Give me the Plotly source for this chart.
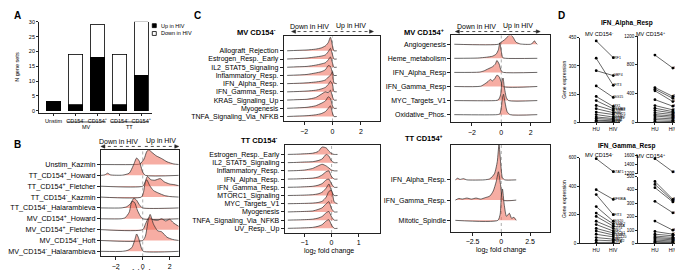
import plotly.graph_objects as go

W, H = 683, 270
def px(x): return x / W
def py(y): return 1 - y / H

FONT = "Liberation Sans, Arial, sans-serif"
FILL = "rgba(238,105,88,0.55)"

# ---------------- data ----------------
# Panel A
A_ticklabels = ["Unstim", "CD154<sup>-</sup>", "CD154<sup>+</sup>", "CD154<sup>-</sup>", "CD154<sup>+</sup>"]
A_up = [3, 2, 18, 2, 12]
A_down = [0, 17, 11, 17, 18]
A_yticks = [0, 5, 10, 15, 20, 25, 30]

# Panel B (ridges: x = log2 FC, h = density height in row units)
B_labels = ["Unstim_Kazmin", "TT_CD154<sup>+</sup>_Howard", "TT_CD154<sup>+</sup>_Fletcher",
            "TT_CD154<sup>-</sup>_Kazmin", "TT_CD154<sup>-</sup>_Halarambieva",
            "MV_CD154<sup>+</sup>_Howard", "MV_CD154<sup>+</sup>_Fletcher",
            "MV_CD154<sup>-</sup>_Hoft", "MV_CD154<sup>-</sup>_Halarambieva"]
B_x = [
    [-3.1, -0.5, -0.2, 0.1, 0.3, 0.45, 0.7, 1.0, 1.4, 1.8, 2.3, 2.67],
    [-3.1, -2.8, -2.6, -2.4, -1.5, -1.0, -0.7, -0.45, -0.25, 0.0, 0.2, 2.67],
    [-3.1, 0.0, 0.15, 0.35, 0.6, 0.9, 1.3, 1.6, 2.0, 2.3, 2.67],
    [-3.1, -0.1, 0.05, 0.2, 0.3, 0.5, 0.8, 1.2, 1.6, 2.0, 2.67],
    [-3.1, -1.6, -1.2, -0.9, -0.65, -0.45, -0.2, 0.0, 2.67],
    [-3.1, -1.6, -1.3, -1.0, -0.8, -0.6, -0.4, -0.2, 0.0, 2.67],
    [-3.1, 0.0, 0.2, 0.45, 0.8, 1.1, 1.4, 1.7, 2.0, 2.3, 2.67],
    [-3.1, 0.0, 0.2, 0.4, 0.55, 0.8, 1.1, 1.4, 1.8, 2.2, 2.67],
    [-3.1, -1.5, -1.1, -0.8, -0.6, -0.45, -0.3, -0.1, 0.05, 2.67],
]
B_h = [
    [0, 0, 0.05, 0.5, 1.2, 1.35, 1.1, 0.8, 0.55, 0.25, 0.05, 0],
    [0, 0.05, 0.2, 0.05, 0.02, 0.2, 0.9, 1.6, 1.3, 0.3, 0, 0],
    [0, 0, 0.3, 0.9, 0.6, 0.55, 0.7, 0.4, 0.2, 0.15, 0.05],
    [0, 0, 0.4, 1.4, 1.6, 1.1, 0.6, 0.35, 0.15, 0.05, 0],
    [0, 0, 0.1, 0.4, 0.9, 0.7, 0.2, 0, 0],
    [0, 0, 0.1, 0.6, 1.6, 1.5, 0.8, 0.3, 0, 0],
    [0, 0, 0.5, 1.1, 0.9, 0.85, 1.0, 0.8, 0.95, 0.6, 0.3],
    [0, 0, 0.4, 1.8, 2.4, 1.5, 0.9, 0.8, 0.3, 0.1, 0],
    [0, 0, 0.1, 0.35, 1.0, 1.6, 1.2, 0.3, 0, 0],
]

# Panel C, MV CD154-
C_MVneg_labels = ["Allograft_Rejection", "Estrogen_Resp._Early", "IL2_STAT5_Signaling",
                  "Inflammatory_Resp.", "IFN_Alpha_Resp.", "IFN_Gamma_Resp.",
                  "KRAS_Signaling_Up", "Myogenesis", "TNFA_Signaling_Via_NFKB"]
C_MVneg_grid = [-3.2, -2.5, -1.8, -1.2, -0.8, -0.5, -0.3, -0.15, 0.0, 0.1, 0.3]
C_MVneg_h = [
    [0, 0.05, 0.1, 0.2, 0.35, 0.6, 1.0, 1.65, 0.6, 0, 0],
    [0, 0.05, 0.12, 0.25, 0.35, 0.5, 0.9, 1.3, 0.5, 0, 0],
    [0, 0.05, 0.1, 0.25, 0.4, 0.55, 0.9, 1.25, 0.5, 0, 0],
    [0, 0.05, 0.12, 0.3, 0.45, 0.7, 1.2, 1.1, 0.3, 0, 0],
    [0, 0.04, 0.1, 0.2, 0.3, 0.45, 0.8, 1.0, 1.45, 0.1, 0],
    [0, 0.04, 0.1, 0.2, 0.35, 0.55, 0.9, 1.3, 0.9, 0.05, 0],
    [0, 0.05, 0.1, 0.3, 0.7, 1.0, 0.9, 1.2, 0.4, 0, 0],
    [0, 0.05, 0.12, 0.3, 0.6, 0.9, 1.4, 1.2, 0.3, 0, 0],
    [0, 0.05, 0.1, 0.2, 0.35, 0.6, 1.0, 1.3, 0.4, 0, 0],
]

# Panel C, TT CD154-
C_TTneg_labels = ["Estrogen_Resp._Early", "IL2_STAT5_Signaling", "Inflammatory_Resp.",
                  "IFN_Alpha_Resp.", "IFN_Gamma_Resp.", "MTORC1_Signaling", "MYC_Targets_V1",
                  "Myogenesis", "TNFA_Signaling_Via_NFKB", "UV_Resp._Up"]
C_TTneg_grid = [-1.62, -1.3, -1.0, -0.7, -0.5, -0.35, -0.2, -0.1, 0.0, 0.1, 0.22]
C_TTneg_h = [
    [0, 0.03, 0.08, 0.15, 0.35, 0.9, 0.8, 0.4, 0.1, 0, 0],
    [0, 0.03, 0.08, 0.12, 0.25, 0.45, 1.0, 0.8, 0.2, 0, 0],
    [0, 0.03, 0.1, 0.3, 0.6, 0.8, 0.6, 0.35, 0.1, 0, 0],
    [0, 0.02, 0.06, 0.12, 0.25, 0.5, 0.9, 1.0, 0.3, 0, 0],
    [0, 0.02, 0.06, 0.12, 0.25, 0.45, 0.9, 1.0, 0.4, 0, 0],
    [0, 0.02, 0.05, 0.1, 0.2, 0.4, 0.9, 1.4, 0.5, 0, 0],
    [0, 0.02, 0.04, 0.08, 0.15, 0.3, 0.8, 1.5, 1.6, 0.2, 0],
    [0, 0.03, 0.06, 0.12, 0.3, 0.5, 1.0, 1.25, 0.4, 0, 0],
    [0, 0.03, 0.06, 0.12, 0.25, 0.45, 0.9, 1.05, 0.4, 0, 0],
    [0, 0.03, 0.06, 0.12, 0.25, 0.45, 0.9, 1.05, 0.4, 0, 0],
]

# Panel C, MV CD154+
C_MVpos_labels = ["Angiogenesis", "Heme_metabolism", "IFN_Alpha_Resp", "IFN_Gamma_Resp",
                  "MYC_Targets_V1", "Oxidative_Phos."]
C_MVpos_x = [
    [-3.2, -0.2, 0.0, 0.2, 0.45, 0.6, 0.8, 1.0, 1.3, 2.0, 2.15, 2.25, 2.35, 2.45],
    [-3.2, -1.6, -1.0, -0.6, -0.35, -0.2, -0.1, 0.0, 0.1, 0.3, 2.45],
    [-3.2, -1.5, -1.2, -0.9, -0.6, -0.4, -0.3, -0.15, 0.0, 0.15, 2.45],
    [-3.2, -1.4, -1.1, -0.9, -0.75, -0.6, -0.45, -0.3, -0.15, 0.0, 0.1, 2.45],
    [-3.2, -0.4, -0.2, -0.05, 0.05, 0.12, 0.2, 0.35, 0.5, 2.45],
    [-3.2, -0.3, -0.1, 0.0, 0.08, 0.15, 0.25, 0.4, 0.6, 2.45],
]
C_MVpos_h = [
    [0, 0, 0.15, 0.3, 0.55, 0.7, 0.5, 0.15, 0.02, 0, 0.1, 0.25, 0.1, 0],
    [0, 0.02, 0.08, 0.15, 0.3, 0.6, 1.1, 0.5, 0.05, 0, 0],
    [0, 0.02, 0.1, 0.25, 0.4, 0.6, 0.85, 0.6, 0.1, 0, 0],
    [0, 0.02, 0.2, 0.35, 0.5, 0.4, 0.55, 0.8, 0.7, 0.3, 0, 0],
    [0, 0, 0.05, 0.4, 1.4, 1.6, 1.0, 0.2, 0, 0],
    [0, 0, 0.05, 0.5, 1.2, 1.45, 0.9, 0.2, 0, 0],
]

# Panel C, TT CD154+
C_TTpos_labels = ["IFN_Alpha_Resp.", "IFN_Gamma_Resp.", "Mitotic_Spindle"]
C_TTpos_x = [
    [-4.0, -3.8, -3.6, -3.3, -3.0, -1.5, -1.0, -0.6, -0.35, -0.2, -0.05, 0.1, 0.3, 1.3],
    [-4.0, -3.7, -3.4, -3.0, -2.6, -2.2, -1.8, -1.4, -1.0, -0.7, -0.45, -0.25, -0.05, 0.15, 1.3],
    [-4.0, -0.3, -0.1, 0.0, 0.1, 0.25, 0.45, 0.7, 0.9, 1.1, 1.3],
]
C_TTpos_h = [
    [0, 0.08, 0.02, 0.06, 0, 0, 0.05, 0.3, 0.9, 1.75, 0.8, 0.1, 0, 0],
    [0, 0.08, 0.05, 0.1, 0.05, 0.1, 0.05, 0.12, 0.2, 0.45, 0.9, 1.4, 0.7, 0, 0],
    [0, 0, 0.3, 1.2, 1.55, 0.8, 0.2, 0.35, 0.1, 0.15, 0],
]

# Panel D
D_xlabels = ["HU", "HIV"]
D_alpha_neg_genes = ["IRF1", "IFIT3", "GBP4", "ISG15", "MX1", "PSMB9", "PSMB8", "IFI35",
                     "TRIM21", "PSME2", "IFITM1", "CD74", "B2M", "LY6E"]
D_alpha_neg_HU = [433, 341, 275, 194, 138, 116, 90, 73, 55, 42, 29, 21, 12, 7]
D_alpha_neg_HIV = [344, 197, 249, 133, 85, 73, 64, 52, 42, 29, 21, 15, 9, 5]

D_alpha_pos_genes = ["GBP2", "IRF1", "PARP14", "GBP4", "IFI44", "PSMB8", "TRIM21", "STAT2",
                     "PLSCR1", "PSMB9", "IFI35", "PSME2", "SP110", "LAMP3"]
D_alpha_pos_HU = [937, 485, 462, 440, 317, 235, 199, 168, 136, 109, 90, 63, 41, 18]
D_alpha_pos_HIV = [756, 362, 335, 290, 226, 175, 150, 130, 110, 90, 70, 50, 30, 12]

D_gamma_neg_genes = ["STAT1", "NFKBIA", "IFIT3", "ISG20", "PSME2", "IL15RA", "CD74", "IRF1",
                     "SOCS1", "PSMB9", "CXCL10", "GBP2", "IFITM2", "CIITA"]
D_gamma_neg_HU = [593, 376, 342, 258, 212, 189, 155, 132, 105, 87, 64, 41, 23, 7]
D_gamma_neg_HIV = [502, 308, 201, 155, 137, 121, 105, 87, 73, 59, 46, 30, 18, 7]

D_gamma_pos_top_genes = ["STAT1"]
D_gamma_pos_top_HU = [1529]
D_gamma_pos_top_HIV = [1243]
D_gamma_pos_genes = ["IRF1", "PSME2", "PARP14", "GBP4", "IFIT2", "OASL", "PSMB9", "CXCL10",
                     "IFI35", "SP110", "TRIM21", "ISG20", "LAP3"]
D_gamma_pos_HU = [463, 441, 417, 315, 167, 89, 69, 55, 45, 35, 25, 15, 8]
D_gamma_pos_HIV = [330, 320, 310, 229, 99, 69, 57, 45, 35, 27, 18, 10, 5]

# ---------------- figure ----------------
fig = go.Figure()
layout = dict(width=W, height=H, margin=dict(l=0, r=0, t=0, b=0),
              paper_bgcolor="white", plot_bgcolor="white", showlegend=False,
              font=dict(family=FONT, color="black", size=7), barmode="stack")
shapes, annos = [], []

def axname(k, c):
    return c if k == 1 else f"{c}{k}"

def set_axes(k, xdom, ydom, xr, yr, xextra=None, yextra=None):
    xa = dict(domain=[px(xdom[0]), px(xdom[1])], range=xr, anchor=axname(k, "y"),
              showgrid=False, zeroline=False, showline=True, linecolor="#222", linewidth=0.8,
              ticks="outside", ticklen=3, tickwidth=0.8, tickcolor="#222")
    ya = dict(domain=[py(ydom[1]), py(ydom[0])], range=yr, anchor=axname(k, "x"),
              showgrid=False, zeroline=False, showline=True, linecolor="#222", linewidth=0.8,
              ticks="outside", ticklen=3, tickwidth=0.8, tickcolor="#222")
    if xextra: xa.update(xextra)
    if yextra: ya.update(yextra)
    layout["xaxis" if k == 1 else f"xaxis{k}"] = xa
    layout["yaxis" if k == 1 else f"yaxis{k}"] = ya

def text(x, y, s, size=7, xanchor="center", bold=False, angle=0, yanchor="middle"):
    annos.append(dict(x=px(x), y=py(y), xref="paper", yref="paper", text=f"<b>{s}</b>" if bold else s,
                      showarrow=False, font=dict(size=size, family=FONT, color="black"),
                      xanchor=xanchor, yanchor=yanchor, textangle=angle))

def hiv_arrows(y_text, y_line, x_left, x_zero, x_right, x_down, x_up, size=7):
    text(x_down, y_text, "Down in HIV", size)
    text(x_up, y_text, "Up in HIV", size)
    shapes.append(dict(type="line", xref="paper", yref="paper", x0=px(x_zero - 2), x1=px(x_left + 3),
                       y0=py(y_line), y1=py(y_line), line=dict(color="#222", width=0.8, dash="dot")))
    shapes.append(dict(type="line", xref="paper", yref="paper", x0=px(x_zero + 2), x1=px(x_right - 3),
                       y0=py(y_line), y1=py(y_line), line=dict(color="#222", width=0.8, dash="dot")))
    for xt, sgn in ((x_left, 1), (x_right, -1)):
        shapes.append(dict(type="path", xref="paper", yref="paper",
                           path=f"M {px(xt)} {py(y_line)} L {px(xt + sgn * 4)} {py(y_line - 1.8)} "
                                f"L {px(xt + sgn * 4)} {py(y_line + 1.8)} Z",
                           fillcolor="#222", line=dict(color="#222", width=0.5)))

def add_ridges(k, labels, xs_list, hs_list):
    n = len(labels)
    xa, ya = axname(k, "x"), axname(k, "y")
    for i in range(n):
        base = n - 1 - i
        xs, hs = xs_list[i], hs_list[i]
        fig.add_trace(go.Scatter(x=xs, y=[base] * len(xs), mode="lines", line=dict(width=0),
                                 hoverinfo="skip", xaxis=xa, yaxis=ya))
        fig.add_trace(go.Scatter(x=xs, y=[base + h for h in hs], mode="lines", fill="tonexty",
                                 fillcolor=FILL, line=dict(color="#2a2a2a", width=0.7, shape="spline", smoothing=0.6),
                                 hoverinfo="skip", xaxis=xa, yaxis=ya))
    shapes.append(dict(type="line", xref=xa, yref=f"{ya} domain", x0=0, x1=0, y0=0, y1=1,
                       line=dict(color="#999", width=0.8, dash="dot"), layer="below"))

def ridge_panel(k, labels, xs_list, hs_list, box, xr, first_base, spacing, xticks, tsize=7):
    n = len(labels)
    top = (n - 1) + (first_base - box[2]) / spacing
    bot = (n - 1) - (box[3] - first_base) / spacing
    set_axes(k, (box[0], box[1]), (box[2], box[3]), xr, [bot, top],
             xextra=dict(mirror=True, tickvals=xticks, tickfont=dict(size=7, color="black")),
             yextra=dict(mirror=True, tickvals=list(range(n - 1, -1, -1)), ticktext=labels,
                         tickfont=dict(size=tsize, color="black")))
    add_ridges(k, labels, xs_list, hs_list)

# ---- Panel A ----
set_axes(1, (30, 143), (11, 104.5), [-0.66, 4.48], [-0.8, 30],
         xextra=dict(tickvals=list(range(5)), ticktext=A_ticklabels, tickfont=dict(size=5.5, color="black"), ticklen=2),
         yextra=dict(tickvals=A_yticks, tickfont=dict(size=5.5, color="black"), ticklen=2))
fig.add_trace(go.Bar(x=list(range(5)), y=A_up, width=0.66, marker=dict(color="black", line=dict(color="black", width=0.8)),
                     xaxis="x", yaxis="y"))
fig.add_trace(go.Bar(x=list(range(5)), y=A_down, width=0.66, marker=dict(color="white", line=dict(color="black", width=0.8)),
                     xaxis="x", yaxis="y"))
text(8, 57, "N gene sets", 5.5, angle=-90)
for x0, x1, lab in ((58, 97, "MV"), (102, 140, "TT")):
    shapes.append(dict(type="line", xref="paper", yref="paper", x0=px(x0), x1=px(x1), y0=py(113.5), y1=py(113.5),
                       line=dict(color="#222", width=0.8)))
    text((x0 + x1) / 2, 118.5, lab, 5.5)
shapes.append(dict(type="rect", xref="paper", yref="paper", x0=px(143.5), x1=px(147.5), y0=py(17), y1=py(13),
                   fillcolor="black", line=dict(color="black", width=0.8)))
shapes.append(dict(type="rect", xref="paper", yref="paper", x0=px(143.5), x1=px(147.5), y0=py(25), y1=py(21),
                   fillcolor="white", line=dict(color="black", width=0.8)))
text(150, 15, "Up in HIV", 5.5, xanchor="left")
text(150, 23, "Down in HIV", 5.5, xanchor="left")

# ---- Panel B ----
ridge_panel(2, B_labels, B_x, B_h, (92, 170, 142, 251), [-3.1, 2.67], 157, 11.1, [-2, 0, 2], tsize=7.2)
hiv_arrows(133, 138.5, 92, 134, 170, 110, 152.5)
text(134, 267, "log<sub>2</sub> fold change", 7)

# ---- Panel C ----
ridge_panel(3, C_MVneg_labels, [C_MVneg_grid] * len(C_MVneg_h), C_MVneg_h, (275, 372, 26, 113),
            [-3.45, 3.38], 40.7, 8.4, [-2, 0, 2])
ridge_panel(4, C_TTneg_labels, [C_TTneg_grid] * len(C_TTneg_h), C_TTneg_h, (276, 372, 137, 227),
            [-1.74, 1.81], 146.7, 8.4, [-1, 0, 1])
ridge_panel(5, C_MVpos_labels, C_MVpos_x, C_MVpos_h, (443, 542, 25, 114),
            [-3.4, 3.33], 34, 14.4, [-2, 0, 2])
ridge_panel(6, C_TTpos_labels, C_TTpos_x, C_TTpos_h, (443, 542, 137, 226),
            [-4.35, 4.26], 172.7, 20.7, [-2.5, 0, 2.5])
hiv_arrows(15.5, 21, 283, 324, 365, 301, 343)
hiv_arrows(15.5, 21, 447, 493, 532, 468, 510)
text(247.5, 21, "MV CD154<sup>-</sup>", 7.5, bold=True)
text(251, 132, "TT CD154<sup>-</sup>", 7.5, bold=True)
text(416, 21, "MV CD154<sup>+</sup>", 7.5, bold=True)
text(416, 130, "TT CD154<sup>+</sup>", 7.5, bold=True)
text(320, 245, "log<sub>2</sub> fold change", 7)
text(493, 244, "log<sub>2</sub> fold change", 7)

# ---- Panel D ----
def d_axes(k, xdom, ydom, yr, yticks, xshow=True):
    set_axes(k, xdom, ydom, [-0.94, 1.4], yr,
             xextra=dict(tickvals=[0, 1], ticktext=D_xlabels, tickfont=dict(size=5, color="black"),
                         ticklen=2, visible=xshow),
             yextra=dict(tickvals=yticks, tickfont=dict(size=4.5, color="black"), ticklen=2))

def d_lines(k, genes, hu, hiv):
    xs, ys = [], []
    for a, b in zip(hu, hiv):
        xs += [0, 1, None]
        ys += [a, b, None]
    fig.add_trace(go.Scatter(x=xs, y=ys, mode="lines+markers", line=dict(color="black", width=0.6),
                             marker=dict(color="black", size=2.8), cliponaxis=False,
                             xaxis=axname(k, "x"), yaxis=axname(k, "y")))
    fig.add_trace(go.Scatter(x=[1] * len(genes), y=hiv, mode="text", text=genes, textposition="middle right",
                             textfont=dict(size=3.5, family=FONT, color="black"), cliponaxis=False,
                             xaxis=axname(k, "x"), yaxis=axname(k, "y")))

d_axes(7, (572, 612), (27.3, 114), [0, 450], [0, 150, 300, 450])
d_lines(7, D_alpha_neg_genes, D_alpha_neg_HU, D_alpha_neg_HIV)
d_axes(8, (630, 672), (25.7, 114), [0, 1200], [0, 400, 800, 1200])
d_lines(8, D_alpha_pos_genes, D_alpha_pos_HU, D_alpha_pos_HIV)
d_axes(9, (572, 612), (150, 237.7), [0, 600], [0, 200, 400, 600])
d_lines(9, D_gamma_neg_genes, D_gamma_neg_HU, D_gamma_neg_HIV)
d_axes(10, (630, 672), (169.3, 237.7), [0, 500], [0, 100, 200, 300, 400, 500])
d_lines(10, D_gamma_pos_genes, D_gamma_pos_HU, D_gamma_pos_HIV)
d_axes(11, (630, 672), (147.7, 166.5), [1200, 1600], [1200, 1400, 1600], xshow=False)
d_lines(11, D_gamma_pos_top_genes, D_gamma_pos_top_HU, D_gamma_pos_top_HIV)

text(619, 12.7, "IFN_Alpha_Resp", 6.5, bold=True)
text(618, 138, "IFN_Gamma_Resp", 6.5, bold=True)
text(591, 24, "MV CD154<sup>-</sup>", 5.5)
text(643, 24, "MV CD154<sup>+</sup>", 5.5)
text(591, 147, "MV CD154<sup>-</sup>", 5.5)
text(643, 148, "MV CD154<sup>+</sup>", 5.5)
text(556, 70, "Gene expression", 5, angle=-90)
text(556, 192, "Gene expression", 5, angle=-90)

# panel letters
text(3, 5, "A", 10, bold=True, xanchor="left")
text(3, 137, "B", 10, bold=True, xanchor="left")
text(183, 5, "C", 10, bold=True, xanchor="left")
text(548, 5, "D", 10, bold=True, xanchor="left")

layout["shapes"] = shapes
layout["annotations"] = annos
fig.update_layout(**layout)
fig.write_html("out.html")
